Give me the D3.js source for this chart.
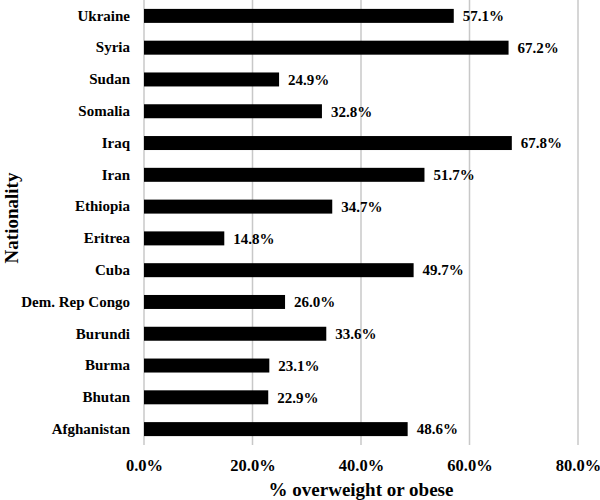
<!DOCTYPE html>
<html>
<head>
<meta charset="utf-8">
<script src="https://cdn.jsdelivr.net/npm/d3@7"></script>
<style>
  body { margin: 0; background: #fff; }
  svg text { font-family: "Times New Roman", Times, "Liberation Serif", serif !important; font-weight: bold; fill: #000; }
</style>
</head>
<body>
<div id="chart"></div>
<script>
// data, top to bottom as in the picture
const nationalities = ["Ukraine", "Syria", "Sudan", "Somalia", "Iraq", "Iran", "Ethiopia",
    "Eritrea", "Cuba", "Dem. Rep Congo", "Burundi", "Burma", "Bhutan", "Afghanistan"];
const overweight = [57.1, 67.2, 24.9, 32.8, 67.8, 51.7, 34.7, 14.8, 49.7, 26.0, 33.6, 23.1, 22.9, 48.6];
const xTicks = [0, 20, 40, 60, 80];

const W = 600, H = 500;
const margin = {top: 0, right: 22, bottom: 55, left: 144};

const svg = d3.select("#chart").append("svg")
    .attr("width", W)
    .attr("height", H);

const x = d3.scaleLinear()
    .domain([0, 80])
    .range([margin.left, W - margin.right]);

const y = d3.scaleBand()
    .domain(nationalities)
    .range([margin.top, H - margin.bottom])
    .paddingInner(0.56)
    .paddingOuter(0.28);

// gridlines
svg.append("g")
    .selectAll("line")
    .data(xTicks)
    .join("line")
    .attr("x1", d => x(d))
    .attr("x2", d => x(d))
    .attr("y1", margin.top)
    .attr("y2", H - margin.bottom)
    .attr("stroke", "#c8c8c8")
    .attr("stroke-width", 1.5);

// bars
svg.append("g")
    .selectAll("rect")
    .data(nationalities)
    .join("rect")
    .attr("x", x(0))
    .attr("y", d => y(d))
    .attr("width", (d, i) => x(overweight[i]) - x(0))
    .attr("height", y.bandwidth())
    .attr("fill", "#000");

// value labels
svg.append("g")
    .selectAll("text")
    .data(nationalities)
    .join("text")
    .attr("x", (d, i) => x(overweight[i]) + 9)
    .attr("y", d => y(d) + y.bandwidth() / 2)
    .attr("dy", "0.35em")
    .style("font-size", "15px")
    .text((d, i) => overweight[i].toFixed(1) + "%");

// category labels
const yAxis = svg.append("g")
    .attr("transform", `translate(${margin.left},0)`)
    .call(d3.axisLeft(y).tickSize(0).tickPadding(14));
yAxis.attr("font-family", null).attr("font-size", null);
yAxis.select(".domain").remove();
yAxis.selectAll("text")
    .style("font-size", "15px")
    .attr("fill", "#000");

// x ticks
const xAxis = svg.append("g")
    .attr("transform", `translate(0,${H - margin.bottom})`)
    .call(d3.axisBottom(x).tickValues(xTicks).tickSize(0).tickPadding(14)
        .tickFormat(d => d.toFixed(1) + "%"));
xAxis.attr("font-family", null).attr("font-size", null);
xAxis.select(".domain").remove();
xAxis.selectAll("text")
    .style("font-size", "16.5px")
    .attr("fill", "#000");

// axis titles
svg.append("text")
    .attr("x", (margin.left + W - margin.right) / 2)
    .attr("y", 496)
    .attr("text-anchor", "middle")
    .style("font-size", "19px")
    .text("% overweight or obese");

svg.append("text")
    .attr("transform", `translate(18,218) rotate(-90)`)
    .attr("text-anchor", "middle")
    .style("font-size", "19px")
    .text("Nationality");
</script>
</body>
</html>
